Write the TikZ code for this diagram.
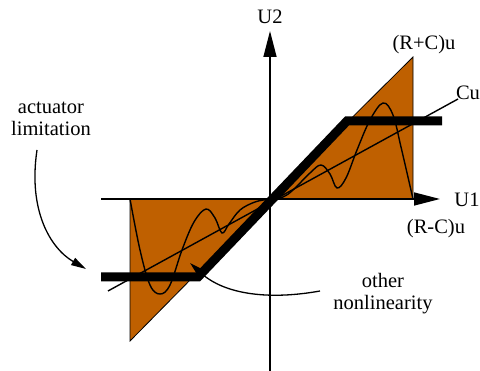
\documentclass[tikz,border=0pt]{standalone}
\usepackage{fontspec}
\setmainfont{Liberation Serif}
\usetikzlibrary{arrows.meta}
\definecolor{rust}{RGB}{191,96,0}
\begin{document}
\begin{tikzpicture}[x=1pt,y=-1pt,
  lbl/.style={font=\fontsize{20.5}{22}\selectfont, inner sep=0pt, align=center},
  axisline/.style={line width=1.5pt, -{Triangle[length=26pt,width=13pt]}},
  region/.style={fill=rust, draw=black, line width=0.8pt, line join=miter},
  sat/.style={line width=9pt, line join=miter},
  waveline/.style={line width=1.4pt},
  callout/.style={line width=1.3pt, -{Triangle[length=15pt,width=8pt]}}]
\useasboundingbox (0,0) rectangle (480,371);
% points
\coordinate (O) at (270,199);
\coordinate (tr) at (413,57);
\coordinate (br) at (413,199);
\coordinate (tl) at (130,199);
\coordinate (bl) at (130,341);
\coordinate (ybot) at (270,371);
\coordinate (ytop) at (270,31);
\coordinate (xl) at (101,199);
\coordinate (xr) at (440,199);
\coordinate (cul) at (108,291);
\coordinate (cur) at (458,99);
\coordinate (s1) at (101,277);
\coordinate (s2) at (198,277);
\coordinate (s3) at (347,121);
\coordinate (s4) at (442,121);
\coordinate (a1) at (37,150);
\coordinate (a2) at (86,269);
\coordinate (n1) at (320,291);
\coordinate (n2) at (190,263);
% regions
\draw[region] (O) -- (tr) -- (br) -- cycle;
\draw[region] (O) -- (tl) -- (bl) -- cycle;
% axes
\draw[axisline] (ybot) -- (ytop);
\draw[axisline] (xl) -- (xr);
% linear gain
\draw[waveline] (cul) -- (cur);
% oscillating nonlinearity
\draw[waveline] plot[smooth, tension=0.6] coordinates {
 (130,199) (140,250) (150,285) (160,294) (170,285) (182,250) (194,222)
 (206,209) (215,218) (222,233) (229,224) (240,210) (255,202) (270,199)
 (283,197) (293,190) (310,173) (321,165) (330,174) (337,188) (346,178)
 (357,150) (370,120) (383,103) (393,115) (401,147) (413,199)};
% saturation
\draw[sat] (s1) -- (s2) -- (s3) -- (s4);
% labels
\node[lbl] (u2) at (270,17) {U2};
\node[lbl] (rpc) at (424,45) {(R+C)u};
\node[lbl] (cu) at (468,93) {Cu};
\node[lbl] (u1) at (467,200) {U1};
\node[lbl] (rmc) at (436,229) {(R-C)u};
\node[lbl] (other) at (383,294) {other\\nonlinearity};
\node[lbl] (act) at (51,119) {actuator\\limitation};
% callouts
\draw[callout] (a1) .. controls (28,210) and (50,248) .. (a2);
\draw[callout] (n1) .. controls (270,300) and (225,295) .. (n2);
\end{tikzpicture}
\end{document}
